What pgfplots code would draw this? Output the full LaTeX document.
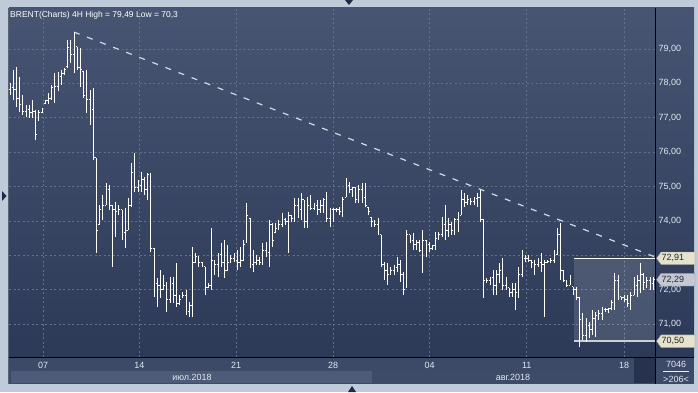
\documentclass[border=0pt]{standalone}
\usepackage{pgfplots}
\pgfplotsset{compat=1.18}
\usepackage{pgfplotstable}
\usepackage{fontspec}
\setmainfont{Liberation Sans}
\definecolor{framecol}{HTML}{C0CBDA}
\definecolor{plotTop}{HTML}{475572}
\definecolor{plotBot}{HTML}{2C3A58}
\definecolor{stripcol}{HTML}{3C4A67}
\definecolor{bandA}{HTML}{4D5B79}
\definecolor{bandB}{HTML}{3D4B69}
\definecolor{darkbox}{HTML}{27334E}
\definecolor{gridcol}{HTML}{61708E}
\definecolor{labcol}{HTML}{E2E7F0}
\definecolor{tagbeige}{HTML}{E5E3CD}
\definecolor{taggrey}{HTML}{C3C8D3}
\definecolor{navy}{HTML}{1E2A45}
\definecolor{dashcol}{HTML}{D5D9E2}
\definecolor{leftline}{HTML}{5A6474}
\definecolor{lowline}{HTML}{C9CED8}
\definecolor{tagedge}{HTML}{8E8E80}
\definecolor{tagedgeg}{HTML}{8E929C}
\pgfdeclareplotmark{otick}{\pgfpathmoveto{\pgfqpoint{-1.3pt}{0pt}}\pgfpathlineto{\pgfqpoint{0pt}{0pt}}\pgfusepathqstroke}
\pgfdeclareplotmark{ctick}{\pgfpathmoveto{\pgfqpoint{0pt}{0pt}}\pgfpathlineto{\pgfqpoint{1.3pt}{0pt}}\pgfusepathqstroke}
\pgfplotstableread{
i o h l c
0 77.81 78.01 77.66 77.87
1 77.87 78.39 77.52 77.81
2 77.81 78.48 77.31 77.57
3 77.57 78.19 77.17 77.37
4 77.37 77.66 77.08 77.17
5 77.17 77.37 77.02 77.23
6 77.23 77.37 76.99 77.14
7 77.14 77.52 76.99 77.17
8 77.17 77.23 76.35 76.50
9 76.93 77.23 76.93 77.14
10 77.14 77.28 77.14 77.23
11 77.40 77.52 77.40 77.49
12 77.49 77.72 77.40 77.57
13 77.57 77.95 77.52 77.87
14 77.87 78.30 77.43 77.92
15 77.92 78.33 77.78 78.19
16 78.19 78.39 77.95 78.30
17 78.30 78.45 78.24 78.39
18 78.48 79.26 78.45 79.03
19 79.03 79.26 78.59 78.83
20 78.83 79.49 78.30 79.26
21 79.06 79.06 78.39 78.45
22 78.45 79.03 77.89 78.39
23 78.33 78.33 77.57 77.66
24 77.66 78.39 77.14 77.52
25 77.52 77.81 76.79 77.23
26 77.23 77.87 75.77 75.83
27 75.83 75.83 73.07 73.73
28 73.88 74.46 73.88 74.32
29 74.32 74.75 74.03 74.46
30 74.46 75.10 74.46 74.90
31 74.90 75.04 74.32 74.46
32 74.46 74.46 72.66 74.32
33 74.32 74.55 73.53 74.26
34 74.26 74.46 74.17 74.32
35 74.32 74.32 73.44 73.65
36 73.65 74.37 73.21 73.73
37 73.73 74.67 73.73 74.46
38 74.46 75.68 74.40 75.42
39 75.42 75.97 74.84 74.96
40 74.96 75.19 74.84 75.04
41 75.04 75.42 74.84 75.19
42 75.19 75.28 74.75 74.90
43 74.90 75.39 74.61 75.34
44 75.34 75.39 73.09 73.21
45 73.21 73.21 71.79 72.19
46 72.19 72.34 71.49 72.13
47 72.13 72.57 71.76 71.99
48 71.99 72.43 71.99 72.13
49 72.13 72.22 71.35 71.70
50 71.70 72.37 71.61 72.19
51 72.19 72.37 71.61 71.84
52 71.84 72.77 71.49 71.61
53 71.61 71.84 71.55 71.70
54 71.76 71.93 71.76 71.84
55 71.84 71.99 71.26 71.35
56 71.35 71.64 71.20 71.55
57 71.55 73.24 71.20 72.80
58 72.80 73.07 72.80 72.95
59 72.95 72.95 72.66 72.80
60 72.80 72.80 72.66 72.72
61 72.66 72.66 71.84 72.05
62 72.05 72.19 72.05 72.13
63 72.13 73.79 71.99 72.86
64 72.86 72.86 72.43 72.72
65 72.72 73.07 72.37 73.01
66 73.01 73.36 72.66 72.80
67 72.80 73.44 72.34 72.57
68 72.57 73.30 72.57 72.80
69 72.80 73.01 72.80 72.92
70 72.92 73.07 72.80 72.86
71 72.86 73.15 72.57 72.80
72 72.80 73.24 72.66 72.86
73 72.86 73.44 72.86 73.30
74 73.36 74.52 73.36 74.17
75 74.08 74.08 72.63 72.72
76 72.72 73.15 72.51 72.80
77 72.80 73.01 72.72 72.86
78 72.86 72.95 72.72 72.80
79 72.80 73.36 72.72 73.15
80 73.15 73.39 72.95 73.09
81 73.09 74.03 72.66 73.88
82 73.88 73.94 73.24 73.44
83 73.65 73.94 73.65 73.79
84 73.79 74.03 73.73 73.88
85 73.88 74.23 73.82 74.03
86 74.03 74.08 73.88 73.97
87 73.97 74.26 73.07 74.17
88 74.17 74.17 73.97 74.08
89 74.08 74.67 73.97 74.46
90 74.46 74.67 74.08 74.32
91 74.32 74.81 74.03 74.61
92 74.61 74.61 73.79 73.97
93 73.97 74.69 73.79 74.46
94 74.46 74.75 74.32 74.37
95 74.37 74.52 74.32 74.46
96 74.46 74.61 74.17 74.32
97 74.32 74.61 74.23 74.46
98 74.46 74.67 74.23 74.61
99 74.61 74.84 73.97 74.08
100 74.08 74.37 73.82 74.32
101 74.32 74.37 73.97 74.32
102 74.32 74.37 74.26 74.32
103 74.32 74.40 74.17 74.26
104 74.26 74.69 74.11 74.61
105 74.69 75.25 74.69 75.04
106 75.04 75.13 74.81 74.90
107 74.90 74.99 74.69 74.96
108 74.96 74.96 74.52 74.61
109 74.61 75.04 74.52 74.90
110 74.90 75.10 74.52 74.67
111 74.67 75.10 74.40 74.46
112 74.40 74.40 74.17 74.26
113 74.11 74.11 73.82 73.97
114 73.97 74.03 73.82 73.88
115 73.88 74.08 73.59 73.65
116 73.59 73.59 72.66 72.72
117 72.72 72.80 72.28 72.57
118 72.57 72.77 72.13 72.43
119 72.43 72.66 72.43 72.57
120 72.57 72.72 72.43 72.63
121 72.63 72.95 72.51 72.72
122 72.72 72.86 72.22 72.43
123 72.43 72.51 71.84 71.99
124 72.05 73.73 72.05 73.59
125 73.59 73.59 73.36 73.44
126 73.44 73.65 73.15 73.30
127 73.30 73.44 73.15 73.36
128 73.36 73.44 73.09 73.15
129 73.15 73.73 72.48 73.44
130 73.44 73.44 72.95 73.30
131 73.30 73.39 73.09 73.21
132 73.21 73.30 73.15 73.27
133 73.27 73.68 73.15 73.50
134 73.50 73.68 73.44 73.59
135 73.59 74.11 73.53 73.88
136 73.88 74.46 73.44 73.73
137 73.73 74.08 73.53 73.88
138 73.88 73.97 73.59 73.73
139 73.73 74.08 73.59 74.03
140 74.03 74.26 73.68 74.17
141 74.17 74.90 74.17 74.61
142 74.61 74.81 74.40 74.52
143 74.52 74.75 74.46 74.61
144 74.61 74.67 74.46 74.55
145 74.55 74.69 74.46 74.64
146 74.64 74.81 74.40 74.69
147 74.69 74.90 73.97 74.03
148 74.03 74.03 71.76 72.28
149 72.28 72.34 72.19 72.28
150 72.28 72.37 72.13 72.34
151 72.34 72.57 71.84 72.13
152 72.13 72.57 71.84 72.43
153 72.43 72.77 72.19 72.57
154 72.57 72.92 71.99 72.13
155 72.13 72.37 71.99 72.05
156 72.05 72.05 71.79 71.93
157 71.93 72.19 71.79 71.99
158 71.99 72.19 71.41 71.93
159 71.93 72.66 71.76 72.43
160 72.43 73.15 72.37 72.92
161 72.92 73.01 72.80 72.92
162 72.92 73.01 72.80 72.86
163 72.86 72.86 72.63 72.80
164 72.80 72.86 72.43 72.72
165 72.72 72.92 72.66 72.80
166 72.80 73.07 72.51 72.72
167 72.72 72.86 71.20 72.80
168 72.80 72.86 72.77 72.83
169 72.83 72.92 72.77 72.86
170 72.86 73.15 72.77 73.01
171 73.01 73.79 73.01 73.59
172 73.59 73.94 72.28 72.57
173 72.57 72.57 72.22 72.28
174 72.28 72.28 72.08 72.13
175 72.13 72.43 72.13 72.34
176 72.08 72.08 71.84 71.99
177 71.99 72.08 71.70 71.76
178 71.76 71.79 70.33 71.12
179 71.12 71.32 70.53 70.68
180 70.68 71.17 70.48 70.97
181 70.97 71.06 70.59 70.83
182 70.83 71.41 70.68 71.17
183 71.17 71.35 70.62 71.26
184 71.26 71.41 71.12 71.32
185 71.32 71.49 71.12 71.41
186 71.41 71.47 71.35 71.41
187 71.41 71.47 71.32 71.44
188 71.44 71.70 71.41 71.64
189 71.64 72.48 71.41 72.28
190 72.28 72.43 71.70 71.79
191 71.79 71.79 71.70 71.76
192 71.76 71.84 71.64 71.70
193 71.70 71.84 71.49 71.61
194 71.61 71.93 71.41 71.84
195 71.84 72.37 71.84 72.13
196 72.13 72.43 71.79 72.28
197 72.28 72.77 71.90 72.43
198 72.43 72.48 71.99 72.22
199 72.22 72.37 72.05 72.28
200 72.28 72.37 71.99 72.19
201 72.19 72.37 71.99 72.29
}\ohlc
\begin{document}
\begin{tikzpicture}
\path[use as bounding box] (0,0) rectangle (698pt,392pt);
\fill[framecol] (0,0) rectangle (698pt,392pt);
\shade[top color=plotTop, bottom color=plotBot] (9pt,35pt) rectangle (694pt,384pt);
\fill[stripcol] (9pt,8pt) rectangle (694pt,35pt);
\fill[bandA] (11pt,9pt) rectangle (372pt,21pt);
\fill[bandB] (372pt,9pt) rectangle (633pt,21pt);
\fill[darkbox] (634pt,9pt) rectangle (655pt,34pt);
\fill[navy] (345pt,392pt) -- (353pt,392pt) -- (349pt,387pt) -- cycle;
\fill[navy] (348pt,0pt) -- (356pt,0pt) -- (352pt,6pt) -- cycle;
\fill[navy] (2pt,201pt) -- (2pt,191pt) -- (6.5pt,196pt) -- cycle;
\draw[leftline, line width=0.8pt] (8.6pt,8pt) -- (8.6pt,384pt);
\begin{axis}[
  at={(9pt,35pt)}, anchor=south west,
  scale only axis, width=646pt, height=349pt,
  xmin=-0.3125, xmax=201.56, ymin=70.04, ymax=80.19,
  axis line style={draw=none}, tick style={draw=none},
  xtick={10.375,40.44,70.63,100.94,131.125,161.47,191.94},
  xticklabels={07,14,21,28,04,11,18},
  ytick={71,72,73,74,75,76,77,78,79},
  yticklabels={{71,00},{72,00},{},{74,00},{75,00},{76,00},{77,00},{78,00},{79,00}},
  yticklabel pos=right,
  yticklabel style={anchor=west, inner sep=0pt, xshift=3.5pt, font=\fontsize{9}{10}\selectfont, text=labcol},
  xticklabel style={anchor=north, inner sep=0pt, yshift=-5pt, font=\fontsize{9}{10}\selectfont, text=labcol},
  grid=major,
  major grid style={gridcol, line width=0.6pt, dash pattern=on 2pt off 2.5pt},
]
\fill[white, fill opacity=0.13] (axis cs:176.3,70.50) rectangle (axis cs:201.56,72.91);
\addplot[dashcol, line width=1.2pt, dash pattern=on 6pt off 8pt] coordinates {(20,79.49) (201.56,72.95)};
\addplot[white, line width=1.4pt] coordinates {(176.3,72.91) (201.56,72.91)};
\addplot[lowline, line width=1.4pt] coordinates {(176.3,70.50) (201.56,70.50)};
\addplot[draw=none, mark=none, forget plot,
  error bars/.cd, y dir=minus, y explicit, error mark=none,
  error bar style={draw=white, solid, line width=0.95pt}]
  table[x=i, y=h, y error minus expr=\thisrow{h}-\thisrow{l}] {\ohlc};
\addplot[white, only marks, mark=otick, mark options={solid, line width=0.95pt}] table[x=i, y=o] {\ohlc};
\addplot[white, only marks, mark=ctick, mark options={solid, line width=0.95pt}] table[x=i, y=c] {\ohlc};
\end{axis}
\draw[black, line width=1pt] (9pt,35pt) -- (694pt,35pt);
\draw[black, line width=1pt] (655pt,8pt) -- (655pt,384pt);
\begin{scope}[font=\fontsize{9}{10}\selectfont]
\filldraw[fill=tagbeige, draw=tagedge, line width=0.4pt] (656.5pt,133.7pt) -- (661pt,140pt) -- (695pt,140pt) -- (695pt,127.5pt) -- (661pt,127.5pt) -- cycle;
\node[anchor=west, inner sep=0pt, text=black!85] at (661.5pt,133.7pt) {72,91};
\filldraw[fill=taggrey, draw=tagedgeg, line width=0.4pt] (656.5pt,112.3pt) -- (661pt,118.6pt) -- (695pt,118.6pt) -- (695pt,106pt) -- (661pt,106pt) -- cycle;
\node[anchor=west, inner sep=0pt, text=black!85] at (661.5pt,112.3pt) {72,29};
\filldraw[fill=tagbeige, draw=tagedge, line width=0.4pt] (656.5pt,50.8pt) -- (661pt,57.1pt) -- (695pt,57.1pt) -- (695pt,44.5pt) -- (661pt,44.5pt) -- cycle;
\node[anchor=west, inner sep=0pt, text=black!85] at (661.5pt,50.8pt) {70,50};
\end{scope}
\node[anchor=base west, inner sep=0pt, text=white, font=\fontsize{8.5}{10}\selectfont] at (10pt,374pt) {BRENT(Charts) 4H High = 79,49 Low = 70,3};
\node[inner sep=0pt, text=labcol, font=\fontsize{9}{10}\selectfont] at (192pt,15pt) {июл.2018};
\node[inner sep=0pt, text=labcol, font=\fontsize{9}{10}\selectfont] at (513pt,15pt) {авг.2018};
\node[inner sep=0pt, text=labcol, font=\fontsize{9}{10}\selectfont] at (676pt,28pt) {7046};
\draw[labcol!70, line width=0.5pt] (663pt,20.5pt) -- (689pt,20.5pt);
\node[inner sep=0pt, text=labcol, font=\fontsize{9}{10}\selectfont] at (676pt,13pt) {>206<};
\end{tikzpicture}
\end{document}
